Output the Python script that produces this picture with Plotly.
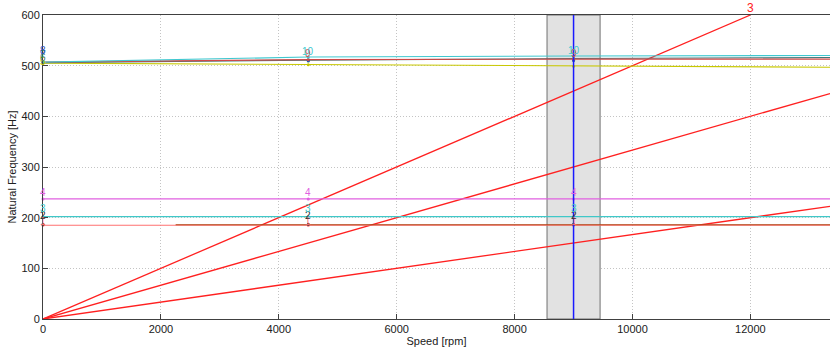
import plotly.graph_objects as go

# ---- data ----
speeds = [0, 4500, 9000, 13350]          # rpm where modes are evaluated / extended
label_speeds = [0, 4500, 9000]
mode_names = ["1", "2", "3", "4", "5", "6", "7", "8", "9", "10"]
mode_colors = ["#ff7070", "#303030", "#40c8c8", "#e060e0", "#c8c800",
               "#407878", "#208050", "#3050c0", "#d04848", "#40c8d0"]
mode_freqs = [
    [185, 185, 185, 185],
    [187, 187, 187, 187],
    [202, 202, 202, 202],
    [237, 237, 237, 237],
    [505, 502, 499, 497],
    [506, 511, 514, 516],
    [507, 509, 510, 511],
    [508, 510, 511, 512],
    [507, 512, 513, 513],
    [507, 517, 519, 520],
]
brown_speeds = [2250, 13350]
brown_freqs = [186, 186]
orders = [1, 2, 3]
order_max_speed = [13350, 13350, 12000]
band = [8550, 9450]
op_speed = 9000

fig = go.Figure()

# engine order lines
for o, smax in zip(orders, order_max_speed):
    fig.add_trace(go.Scatter(x=[0, smax], y=[0, o * smax / 60], mode="lines",
                             line=dict(color="#ff2020", width=1.3), showlegend=False,
                             hoverinfo="skip"))

# mode lines
for nm, col, fr in zip(mode_names, mode_colors, mode_freqs):
    if nm in ("2", "7", "8"):
        continue
    fig.add_trace(go.Scatter(x=speeds, y=fr, mode="lines",
                             line=dict(color=col, width=1.1), showlegend=False))
fig.add_trace(go.Scatter(x=brown_speeds, y=brown_freqs, mode="lines",
                         line=dict(color="#b04414", width=1.2), showlegend=False))

# markers at evaluated speeds
for nm, col, fr in zip(mode_names, mode_colors, mode_freqs):
    fig.add_trace(go.Scatter(x=label_speeds, y=fr[:3], mode="markers",
                             marker=dict(color=col, size=3), showlegend=False,
                             cliponaxis=False))

fig.add_shape(type="rect", x0=band[0], x1=band[1], y0=0, y1=600, xref="x", yref="y",
              fillcolor="#e2e2e2", line=dict(color="#707070", width=1), layer="between")
# operating speed line
fig.add_shape(type="line", x0=op_speed, x1=op_speed, y0=0, y1=600, xref="x", yref="y",
              line=dict(color="#1a1aff", width=1.5), layer="above")

ann = []
shifts = {"1": 4, "2": 9, "3": 8, "4": 6, "5": 2, "6": 5, "7": 8, "8": 11, "9": 6, "10": 6}
for nm, col, fr in zip(mode_names, mode_colors, mode_freqs):
    n = int(nm)
    if n <= 4:
        xs = label_speeds
    elif n <= 8:
        xs = label_speeds[:1]
    else:
        xs = label_speeds[1:]
    for s in xs:
        k = label_speeds.index(s)
        ann.append(dict(x=s, y=fr[k], text=nm, showarrow=False, yshift=shifts[nm],
                        font=dict(color=col, size=10, family="Liberation Sans"),
                        xanchor="center", yanchor="middle"))
ann.append(dict(x=order_max_speed[2], y=orders[2] * order_max_speed[2] / 60, text="3",
                showarrow=False, yshift=7, font=dict(color="#ff2020", size=12,
                family="Liberation Sans")))
fig.update_layout(annotations=ann)

fig.update_layout(
    width=830, height=348, margin=dict(l=43, r=0, t=15, b=29, autoexpand=False),
    plot_bgcolor="white", paper_bgcolor="white",
    font=dict(family="Liberation Sans", size=11, color="#202020"),
    xaxis=dict(range=[0, 13350], dtick=2000, tick0=0, tickformat="d", showgrid=True,
               gridcolor="#c4c4c4", griddash="1px,2px", zeroline=False, showline=True,
               linecolor="#404040", mirror=True, ticks="inside", ticklen=5,
               tickcolor="#404040", automargin=False,
               title=dict(text="Speed [rpm]", standoff=0, font=dict(size=11))),
    yaxis=dict(range=[0, 600], dtick=100, showgrid=True, gridcolor="#c4c4c4",
               griddash="1px,2px", zeroline=False, showline=True, linecolor="#404040",
               ticks="inside", ticklen=5, tickcolor="#404040", automargin=False,
               title=dict(text="Natural Frequency [Hz]", standoff=2, font=dict(size=11))),
)

fig.write_html("out.html", config={"displayModeBar": False},
               post_script="document.body.style.margin='0';document.body.style.overflow='hidden';")
